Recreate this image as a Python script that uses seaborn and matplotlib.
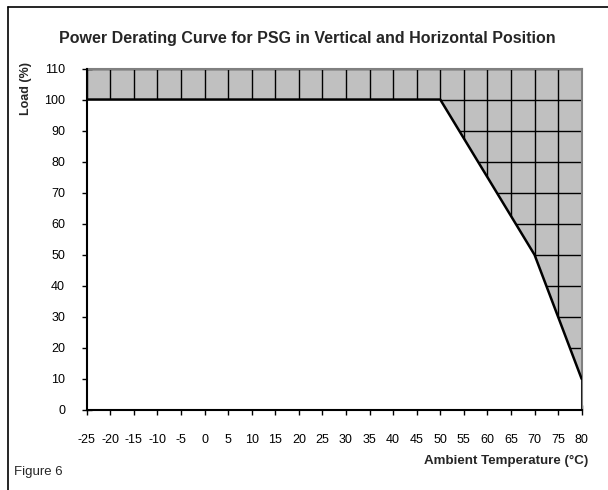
import matplotlib
matplotlib.use("Agg")
import matplotlib.pyplot as plt
import matplotlib.lines as mlines
import seaborn as sns
import pandas as pd
import numpy as np

# derating curve
temp = [-25, 50, 70, 80]
load = [100, 100, 50, 10]
x_ticks = list(range(-25, 81, 5))
y_ticks = list(range(0, 111, 10))

df = pd.DataFrame({"temp": temp, "load": load})

sns.set_style("white")
plt.rcParams['font.family'] = ['Liberation Sans', 'DejaVu Sans']
plt.rcParams['axes.unicode_minus'] = False

fig = plt.figure(figsize=(6.08, 4.9), dpi=100)
ax = fig.add_axes([0.1426, 0.1633, 0.8141, 0.6969])

# grey band above the curve with a grid, white below it
ax.set_facecolor("#c0c0c0")
ax.set_xticks(x_ticks)
ax.set_yticks(y_ticks)
ax.grid(True, color="black", linewidth=1.0, zorder=0)
ax.set_axisbelow(True)
ax.fill_between(df["temp"], 0, df["load"], color="white", zorder=1.5, linewidth=0)
sns.lineplot(data=df, x="temp", y="load", color="black", linewidth=1.8, ax=ax, zorder=3)
ax.plot([80, 80], [0, 10], color="black", linewidth=1.8, zorder=3)

ax.set_xlim(-25, 80)
ax.set_ylim(0, 110)

for s in ["top", "right"]:
    ax.spines[s].set_color("#808080")
    ax.spines[s].set_linewidth(1.5)
for s in ["left", "bottom"]:
    ax.spines[s].set_color("black")
    ax.spines[s].set_linewidth(1.5)
    ax.spines[s].set_zorder(4)

ax.tick_params(axis="x", direction="inout", length=7, width=1, colors="black",
               labelsize=9, pad=14, bottom=True)
ax.tick_params(axis="y", direction="inout", length=7, width=1, colors="black",
               labelsize=9, pad=12, left=True)
ax.set_xlabel("")
ax.set_ylabel("")

fig.text(0.505, 0.922, "Power Derating Curve for PSG in Vertical and Horizontal Position",
         ha="center", va="center", fontsize=11.5, fontweight="bold")
fig.text(0.043, 0.873, "Load (%)", rotation=90, ha="center", va="top",
         fontsize=9, fontweight="bold")
fig.text(0.967, 0.059, "Ambient Temperature (°C)", ha="right", va="center",
         fontsize=9.6, fontweight="bold")
fig.text(0.023, 0.037, "Figure 6", ha="left", va="center", fontsize=9.5)

# outer frame (top and left edges)
fig.add_artist(mlines.Line2D([0.013, 1.0], [0.986, 0.986], color="black", linewidth=1.2))
fig.add_artist(mlines.Line2D([0.013, 0.013], [0.0, 0.986], color="black", linewidth=1.2))

fig.savefig("out.png", dpi=100)
